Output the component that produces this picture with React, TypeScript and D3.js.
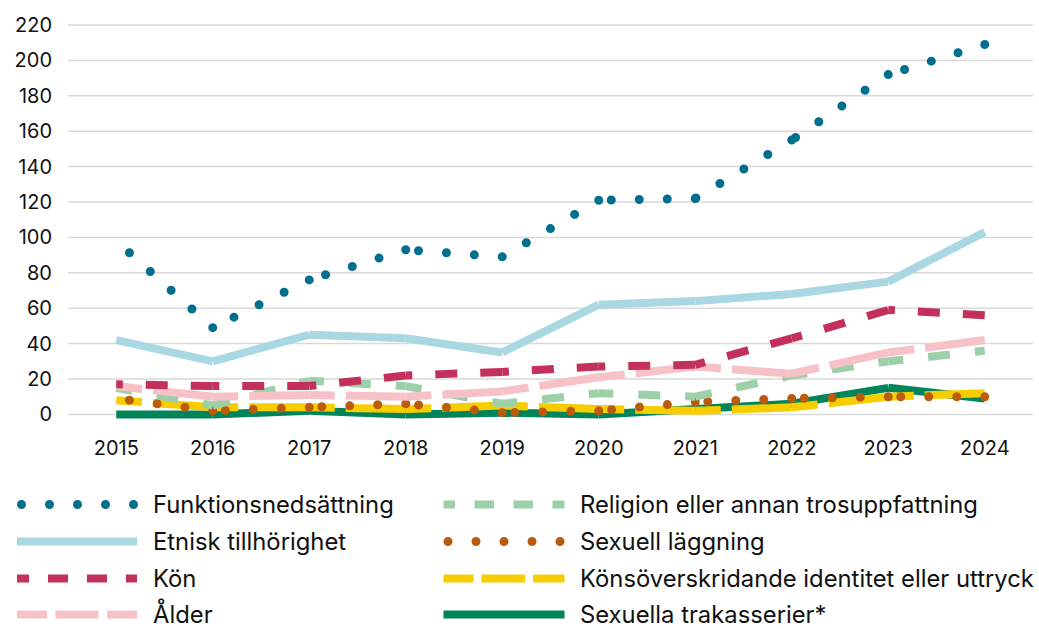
import React, { useRef, useEffect } from 'react';
import * as d3 from 'd3';

// Values
const years = ['2015', '2016', '2017', '2018', '2019', '2020', '2021', '2022', '2023', '2024'];
const funktionsnedsattning = [98, 49, 76, 93, 89, 121, 122, 155, 192, 209];
const etniskTillhorighet = [42, 30, 45, 43, 35, 62, 64, 68, 75, 103];
const kon = [17, 16, 16, 22, 24, 27, 28, 43, 59, 56];
const alder = [16, 10, 11, 10, 13, 21, 27, 23, 35, 42];
const religion = [15, 5, 19, 16, 6, 12, 10, 22, 30, 36];
const sexuellLaggning = [9, 2, 4, 6, 1, 2, 7, 9, 10, 10];
const konsoverskridande = [8, 4, 4, 3, 5, 3, 2, 4, 10, 12];
const sexuellaTrakasserier = [0, 0, 2, 0, 1, 0, 3, 6, 15, 9];
const yTicks = [0, 20, 40, 60, 80, 100, 120, 140, 160, 180, 200, 220];

const series = [
  { name: 'Funktionsnedsättning', values: funktionsnedsattning, color: '#006f8e', width: 9, dash: '0 28', offset: 0, cap: 'round', legendDash: '0 28', legendOffset: 0 },
  { name: 'Etnisk tillhörighet', values: etniskTillhorighet, color: '#a9d8e2', width: 8, dash: null, offset: 0, cap: 'butt', legendDash: null, legendOffset: 0 },
  { name: 'Kön', values: kon, color: '#c4305c', width: 8, dash: '22 23', offset: 0, cap: 'butt', legendDash: '20 19', legendOffset: 8 },
  { name: 'Ålder', values: alder, color: '#f6c2c7', width: 8, dash: '60 11', offset: 0, cap: 'butt', legendDash: '43 8.5', legendOffset: 13 },
  { name: 'Religion eller annan trosuppfattning', values: religion, color: '#9dcfa9', width: 8, dash: '22 25', offset: 12, cap: 'butt', legendDash: '19.5 19.5', legendOffset: 8 },
  { name: 'Sexuell läggning', values: sexuellLaggning, color: '#b95c10', width: 9, dash: '0 28', offset: 0, cap: 'round', legendDash: '0 28', legendOffset: 0 },
  { name: 'Könsöverskridande identitet eller uttryck', values: konsoverskridande, color: '#f7cd00', width: 8, dash: '60 11', offset: 0, cap: 'butt', legendDash: '43.5 8', legendOffset: 13.5 },
  { name: 'Sexuella trakasserier*', values: sexuellaTrakasserier, color: '#00845a', width: 8, dash: null, offset: 0, cap: 'butt', legendDash: null, legendOffset: 0 },
];

const App = () => {
  const svgRef = useRef(null);

  useEffect(() => {
    const width = 1039;
    const height = 629;
    const font = 'Inter, "Noto Sans", sans-serif';

    d3.select(svgRef.current).selectAll('*').remove();
    const svg = d3.select(svgRef.current)
      .attr('width', width)
      .attr('height', height);

    const x = d3.scalePoint().domain(years).range([68, 1033]).padding(0.5);
    const y = d3.scaleLinear().domain([0, 220]).range([414.4, 25]);

    // gridlines
    svg.append('g')
      .selectAll('line')
      .data(yTicks)
      .enter().append('line')
      .attr('x1', 68)
      .attr('x2', 1033)
      .attr('y1', d => y(d))
      .attr('y2', d => y(d))
      .attr('stroke', '#d9d9d9')
      .attr('stroke-width', 1.5);

    // y labels
    svg.append('g')
      .selectAll('text')
      .data(yTicks)
      .enter().append('text')
      .attr('x', 52)
      .attr('y', d => y(d))
      .attr('dy', '0.35em')
      .attr('text-anchor', 'end')
      .attr('font-family', font)
      .attr('font-size', 20)
      .attr('fill', '#111')
      .text(d => d);

    // x labels
    svg.append('g')
      .selectAll('text')
      .data(years)
      .enter().append('text')
      .attr('x', d => x(d))
      .attr('y', 455)
      .attr('text-anchor', 'middle')
      .attr('font-family', font)
      .attr('font-size', 20)
      .attr('fill', '#111')
      .text(d => d);

    // lines, each segment drawn from its end back to its start (dash pattern restarts per segment)
    const line = d3.line();
    const plot = svg.append('g');
    series.slice().reverse().forEach(s => {
      const pts = s.values.map((v, i) => [x(years[i]), y(v)]);
      const segs = d3.pairs(pts).map(([a, b]) => [b, a]);
      plot.append('g')
        .selectAll('path')
        .data(segs)
        .enter().append('path')
        .attr('d', d => line(d))
        .attr('fill', 'none')
        .attr('stroke', s.color)
        .attr('stroke-width', s.width)
        .attr('stroke-linecap', s.cap)
        .attr('stroke-dasharray', s.dash)
        .attr('stroke-dashoffset', s.offset);
    });

    // legend
    const legend = svg.append('g');
    const rowY = [504.5, 541.5, 578.5, 614.5];
    const cols = [
      { x0: 17, x1: 137, tx: 153 },
      { x0: 443.5, x1: 564.5, tx: 580 },
    ];
    series.forEach((s, i) => {
      const c = cols[Math.floor(i / 4)];
      const ry = rowY[i % 4];
      const round = s.cap === 'round';
      const lx0 = round ? c.x0 + 4.5 : c.x0;
      const lx1 = round ? lx0 + 112.5 : c.x1;
      legend.append('line')
        .attr('x1', lx0)
        .attr('x2', lx1)
        .attr('y1', ry)
        .attr('y2', ry)
        .attr('stroke', s.color)
        .attr('stroke-width', s.width)
        .attr('stroke-linecap', s.cap)
        .attr('stroke-dasharray', s.legendDash)
        .attr('stroke-dashoffset', s.legendOffset);
      legend.append('text')
        .attr('x', c.tx)
        .attr('y', ry)
        .attr('dy', '0.35em')
        .attr('font-family', font)
        .attr('font-size', 23.8)
        .attr('fill', '#111')
        .text(s.name);
    });
  }, []);

  return (
    <svg ref={svgRef} style={{ position: 'absolute', left: 0, top: 0 }}></svg>
  );
};

export default App;
